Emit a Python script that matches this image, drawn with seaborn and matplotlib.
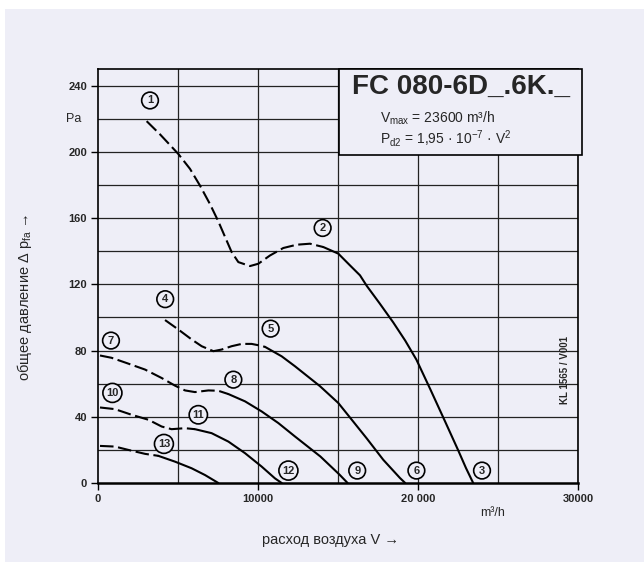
import matplotlib
matplotlib.use("Agg")
import matplotlib.pyplot as plt
import seaborn as sns
import pandas as pd
from matplotlib.patches import Rectangle

sns.set_theme(style="white")
plt.rcParams['font.family'] = ['Liberation Sans', 'DejaVu Sans']
plt.rcParams['mathtext.fontset'] = 'custom'
plt.rcParams['mathtext.rm'] = 'Liberation Sans'

BG = "#eeeef7"

# ---- data (V in m3/h, p in Pa) ----
c1_dash_v = [3040, 3880, 5020, 5750, 6380, 7000, 7520, 7940, 8350, 8770, 9500,
             10020, 10750, 11580, 12420, 13250, 14080]
c1_dash_p = [218.5, 210.5, 198.7, 189.7, 179.5, 168.4, 158, 148.6, 139.5, 133.4, 131,
             132.4, 137.4, 141.9, 143.9, 144.5, 142.5]
c1_solid_v = [14080, 15020, 15750, 16375, 16800, 17600, 18450, 19200, 19900, 20750,
              21700, 22500, 23000, 23450]
c1_solid_p = [142.5, 138.5, 131.4, 125.4, 119, 108.5, 97, 86, 74.5, 57,
              37, 20, 9, 0]

c4_dash_v = [4190, 5020, 5850, 6480, 7210, 7730, 8350, 8980, 9600, 10020, 10440]
c4_dash_p = [98.4, 92.7, 86.7, 82.6, 79.6, 80.6, 82.6, 84.0, 84.0, 83.2, 82.2]
c4_solid_v = [10440, 11480, 12310, 13870, 15020, 15960, 16790, 17830, 18875, 19200]
c4_solid_p = [82.2, 76.5, 70.5, 58.5, 48.3, 37, 27, 14, 3, 0]

c7_dash_v = [125, 850, 1890, 2940, 3980, 4810, 5440, 6060, 6900, 7520, 8150]
c7_dash_p = [77, 75.6, 72.1, 68.5, 63.4, 58.8, 55.9, 54.9, 55.9, 55.7, 53.7]
c7_solid_v = [8150, 9190, 10230, 11270, 12310, 13900, 15100, 15600]
c7_solid_p = [53.7, 49.3, 43.2, 36.2, 28.1, 16, 5, 0]

c10_dash_v = [125, 1060, 2100, 3150, 3980, 4600, 5440, 6060]
c10_dash_p = [45.6, 44.6, 41.2, 38.2, 34.1, 32.5, 33.1, 32.5]
c10_solid_v = [6060, 7100, 8150, 9190, 10230, 11060, 11480]
c10_solid_p = [32.5, 30.1, 25, 18, 9.9, 2.8, 0]

c13_dash_v = [125, 1060, 1890, 2940, 3770]
c13_dash_p = [22.4, 22, 20, 17.6, 16.4]
c13_solid_v = [3770, 4810, 5850, 6690, 7520]
c13_solid_p = [16.4, 12.9, 8.9, 4.8, 0]

label_text = ["1", "2", "3", "4", "5", "6", "7", "8", "9", "10", "11", "12", "13"]
label_v = [3250, 14040, 24000, 4200, 10790, 19900, 810, 8460, 16200, 900, 6270, 11900, 4120]
label_p = [231, 154, 7.5, 111, 93.2, 7.5, 86, 62.4, 7.5, 54.4, 41.2, 7.5, 23.6]

x_ticks = [0, 10000, 20000, 30000]
x_tick_labels = ["0", "10000", "20 000", "30000"]
y_ticks = [0, 40, 80, 120, 160, 200, 240]

segments = [
    (c1_dash_v, c1_dash_p, True), (c1_solid_v, c1_solid_p, False),
    (c4_dash_v, c4_dash_p, True), (c4_solid_v, c4_solid_p, False),
    (c7_dash_v, c7_dash_p, True), (c7_solid_v, c7_solid_p, False),
    (c10_dash_v, c10_dash_p, True), (c10_solid_v, c10_solid_p, False),
    (c13_dash_v, c13_dash_p, True), (c13_solid_v, c13_solid_p, False),
]

fig = plt.figure(figsize=(6.44, 5.62), dpi=100)
fig.patch.set_facecolor("white")
fig.patches.append(Rectangle((5/644, 0), 1, 1 - 9/562, transform=fig.transFigure,
                             facecolor=BG, edgecolor="none", zorder=-10))
ax = fig.add_axes([98/644, 1 - 483/562, 480/644, 414/562])
ax.set_facecolor(BG)

# grid
for gx in range(5000, 30001, 5000):
    ax.axvline(gx, color="#222222", lw=0.9, zorder=1)
for gy in range(20, 251, 20):
    ax.axhline(gy, color="#222222", lw=0.9, zorder=1)

for v, p, dashed in segments:
    df = pd.DataFrame({"V": v, "p": p})
    sns.lineplot(data=df, x="V", y="p", ax=ax, color="black", lw=1.5,
                 sort=False, zorder=3)
    line = ax.lines[-1]
    line.set_solid_capstyle("round")
    line.set_solid_joinstyle("round")
    if dashed:
        line.set_dashes((6.5, 2.2))

for t, v, p in zip(label_text, label_v, label_p):
    ax.text(v, p, t, ha="center", va="center", fontsize=8, fontweight="bold",
            zorder=5,
            bbox=dict(boxstyle="circle,pad=0.3", facecolor=BG, edgecolor="black", lw=1.2))

# title box
ax.add_patch(Rectangle((15050, 198), 15200, 52, facecolor=BG, edgecolor="black",
                       lw=1.2, zorder=4, clip_on=False))
ax.text(22700, 239.5, "FC 080-6D_.6K._", ha="center", va="center", fontsize=20,
        fontweight="bold", zorder=6)
ax.text(17600, 220, r"$\mathregular{V_{max}}$ = 23600 m³/h", ha="left", va="center",
        fontsize=10, zorder=6)
ax.text(17600, 208, r"$\mathregular{P_{d2}}$ = 1,95 · 10$^{\mathregular{-7}}$ · V$^{\mathregular{2}}$",
        ha="left", va="center", fontsize=10, zorder=6)

ax.text(29200, 68, "KL 1565 / V001", rotation=90, ha="center", va="center",
        fontsize=7, fontweight="bold", zorder=6)

ax.set_xlim(0, 30000)
ax.set_ylim(0, 250)
ax.set_xticks(x_ticks)
ax.set_xticklabels(x_tick_labels, fontsize=8, fontweight="bold")
ax.set_yticks(y_ticks)
ax.set_yticklabels([str(y) for y in y_ticks], fontsize=8, fontweight="bold")
ax.tick_params(axis="both", length=5, width=1, color="black", direction="out",
               pad=3, bottom=True, left=True)
for s in ax.spines.values():
    s.set_color("black")
    s.set_linewidth(1.2)
ax.spines["bottom"].set_linewidth(1.8)
ax.set_xlabel("")
ax.set_ylabel("")

ax.text(-1500, 220, "Pa", ha="center", va="center", fontsize=9)
ax.text(24650, -18, "m³/h", ha="center", va="center", fontsize=9)

fig.text(330/644, 1 - 540/562, "расход воздуха V →", ha="center", va="center", fontsize=10.5)
fig.text(25/644, 1 - 297/562, r"общее давление Δ p$_{\mathregular{fa}}$ →", rotation=90,
         ha="center", va="center", fontsize=10.5)

fig.savefig("out.png", dpi=100, facecolor=fig.get_facecolor())
